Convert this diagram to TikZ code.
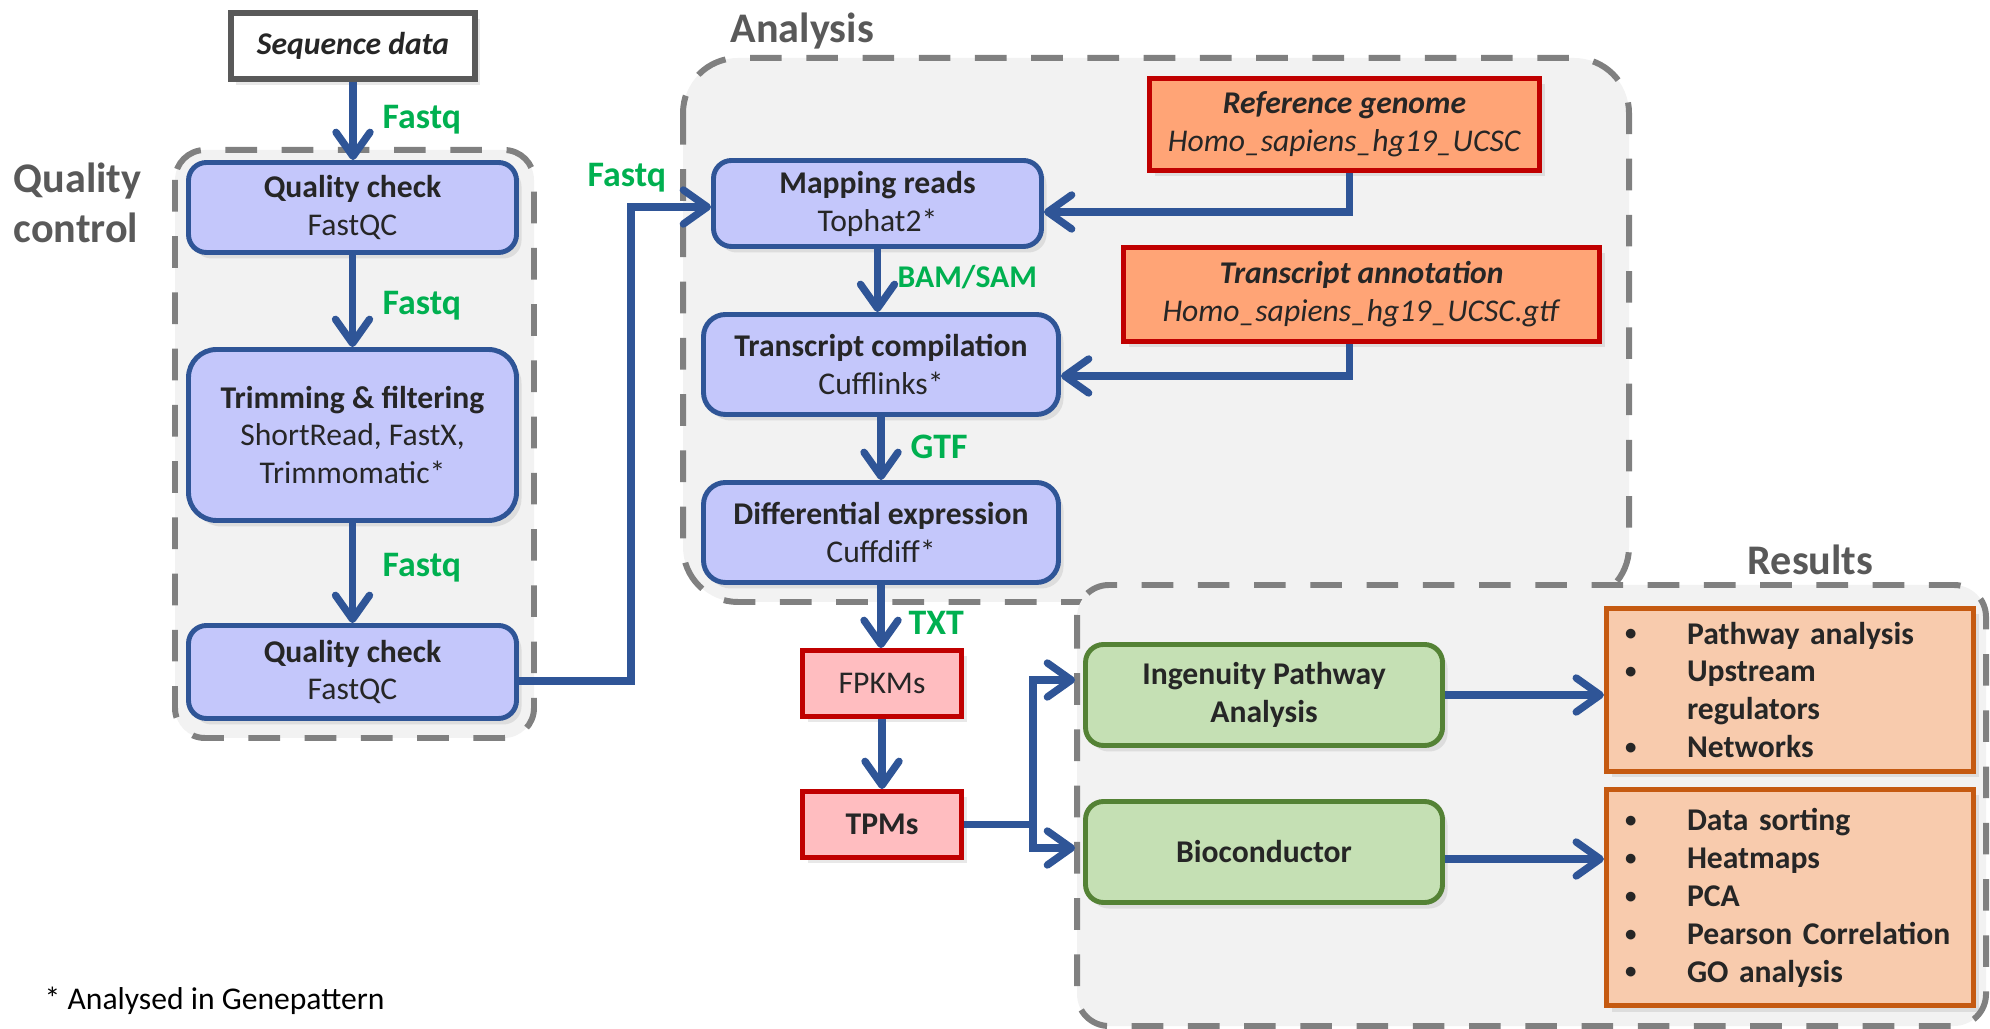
\documentclass[tikz,border=0pt]{standalone}
\usepackage{fontspec}
\setmainfont{Carlito}
\usepackage{xcolor}
\usepackage{tikz}
\usetikzlibrary{arrows.meta, positioning, calc, shadows}

\definecolor{procfill}{HTML}{C4C7FB}
\definecolor{procline}{HTML}{2F5597}
\definecolor{fmtgreen}{HTML}{00B050}
\definecolor{groupfill}{HTML}{F2F2F2}
\definecolor{groupline}{HTML}{808080}
\definecolor{labelgrey}{HTML}{595959}
\definecolor{inkdark}{HTML}{262626}
\definecolor{reffill}{HTML}{FFA476}
\definecolor{redline}{HTML}{C00000}
\definecolor{tabfill}{HTML}{FFBDC0}
\definecolor{toolfill}{HTML}{C5E0B4}
\definecolor{toolline}{HTML}{548235}
\definecolor{resfill}{HTML}{F8CBAD}
\definecolor{resline}{HTML}{C55A11}

% bullet lines in the result boxes
\newcommand{\resitem}[1]{\makebox[0.62cm][l]{\raisebox{0.2ex}{\fontsize{6.5}{8}\selectfont\textbullet}}#1}
\newcommand{\rescont}[1]{\hspace*{0.62cm}#1}

\begin{document}
\begin{tikzpicture}[
    >={Straight Barb[length=2.4mm, width=3.4mm, round]},
    box/.style={rectangle, inner sep=0pt, align=center, text=inkdark,
        font=\fontsize{9}{10.8}\selectfont,
        drop shadow={shadow xshift=0.5mm, shadow yshift=-0.6mm, opacity=0.18}},
    proc/.style={box, fill=procfill, draw=procline, line width=1.4pt, rounded corners=0.18cm},
    refbox/.style={box, fill=reffill, draw=redline, line width=1.6pt},
    tabbox/.style={box, fill=tabfill, draw=redline, line width=1.4pt,
        minimum width=1.59cm, minimum height=0.66cm},
    toolbox/.style={box, fill=toolfill, draw=toolline, line width=1.4pt, rounded corners=0.18cm,
        minimum width=3.57cm, minimum height=1.01cm, font=\fontsize{9}{10.8}\selectfont\bfseries},
    resbox/.style={box, fill=resfill, draw=resline, line width=1.5pt, text width=3.3cm,
        inner xsep=0.185cm, align=left, font=\fontsize{9}{10.8}\selectfont\bfseries},
    group/.style={fill=groupfill, draw=groupline, line width=1.7pt, dash pattern=on 9pt off 7pt},
    grouplabel/.style={inner sep=0pt, text=labelgrey, font=\fontsize{12}{14.2}\selectfont\bfseries},
    fmt/.style={inner sep=0pt, anchor=base west, text=fmtgreen, font=\fontsize{10.2}{12}\selectfont\bfseries},
    flow/.style={->, draw=procline, line width=2.1pt}
]
\useasboundingbox (0,0) rectangle (19.90,-10.29);

% Dashed group areas
\draw[group, rounded corners=0.3cm] (1.75,-1.50) rectangle (5.34,-7.38);
\draw[group, rounded corners=0.55cm] (6.83,-0.58) rectangle (16.29,-6.02);
\draw[group, rounded corners=0.32cm] (10.77,-5.85) rectangle (19.86,-10.26);

\node[grouplabel, anchor=west, align=left] (qclabel) at (0.13,-2.025) {Quality\\control};
\node[grouplabel, anchor=base west] (anlabel) at (7.30,-0.43) {Analysis};
\node[grouplabel, anchor=base west] (reslabel) at (17.47,-5.75) {Results};

% Quality control
\node[box, fill=white, draw=labelgrey, line width=1.6pt, minimum width=2.44cm, minimum height=0.66cm]
    (seq) at (3.53,-0.46) {\textbf{\textit{Sequence data}}};
\node[proc, minimum width=3.28cm, minimum height=0.90cm] (qc1) at (3.525,-2.075)
    {\textbf{Quality check}\\FastQC};
\node[proc, rounded corners=0.28cm, minimum width=3.28cm, minimum height=1.71cm] (trim) at (3.525,-4.35)
    {\textbf{Trimming \& filtering}\\ShortRead, FastX,\\Trimmomatic*};
\node[proc, minimum width=3.28cm, minimum height=0.93cm] (qc2) at (3.525,-6.72)
    {\textbf{Quality check}\\FastQC};

% Analysis
\node[proc, minimum width=3.28cm, minimum height=0.86cm] (map) at (8.775,-2.035)
    {\textbf{Mapping reads}\\Tophat2*};
\node[proc, rounded corners=0.22cm, minimum width=3.55cm, minimum height=1.00cm] (tc) at (8.81,-3.645)
    {\textbf{Transcript compilation}\\Cufflinks*};
\node[proc, rounded corners=0.22cm, minimum width=3.55cm, minimum height=1.00cm] (de) at (8.81,-5.325)
    {\textbf{Differential expression}\\Cuffdiff*};
\node[refbox, minimum width=3.90cm, minimum height=0.92cm] (rg) at (13.445,-1.245)
    {\textbf{\textit{Reference genome}}\\\textit{Homo\_sapiens\_hg19\_UCSC}};
\node[refbox, minimum width=4.76cm, minimum height=0.94cm] (ta) at (13.615,-2.945)
    {\textbf{\textit{Transcript annotation}}\\\textit{Homo\_sapiens\_hg19\_UCSC.gtf}};

\node[tabbox] (fpkm) at (8.82,-6.835) {FPKMs};
\node[tabbox] (tpm) at (8.82,-8.245) {\textbf{TPMs}};

% Results
\node[toolbox] (ipa) at (12.64,-6.95) {Ingenuity Pathway\\Analysis};
\node[toolbox] (bio) at (12.64,-8.52) {Bioconductor};
\node[resbox, minimum height=1.63cm] (res1) at (17.90,-6.90)
    {\resitem{Pathway analysis}\\\resitem{Upstream}\\\rescont{regulators}\\\resitem{Networks}};
\node[resbox, minimum height=2.16cm] (res2) at (17.90,-8.975)
    {\resitem{Data sorting}\\\resitem{Heatmaps}\\\resitem{PCA}\\\resitem{Pearson Correlation}\\\resitem{GO analysis}};

% Connectors
\draw[flow] (seq.south) -- (seq.south |- qc1.north);
\draw[flow] (qc1.south) -- (qc1.south |- trim.north);
\draw[flow] (trim.south) -- (trim.south |- qc2.north);
\draw[flow] ([yshift=-0.09cm]qc2.east) -- ++(1.12,0) |- ([yshift=-0.035cm]map.west);
\draw[flow] ([xshift=0.05cm]rg.south) |- ([yshift=-0.085cm]map.east);
\draw[flow] ([xshift=0.05cm]rg.south |- ta.south) |- ([yshift=-0.115cm]tc.east);
\draw[flow] (map.south) -- (map.south |- tc.north);
\draw[flow] (tc.south) -- (tc.south |- de.north);
\draw[flow] (de.south) -- (de.south |- fpkm.north);
\draw[flow] (fpkm.south) -- (tpm.north);
\draw[flow, shorten >=0.08cm] (tpm.east) -- ++(0.69,0) coordinate (split) |- ([yshift=0.15cm]ipa.west);
\draw[flow, shorten >=0.08cm] (split) |- ([yshift=0.04cm]bio.west);
\draw[flow] (ipa.east) -- (ipa.east -| res1.west);
\draw[flow] ([yshift=-0.07cm]bio.east) -- ([yshift=-0.07cm]bio.east -| res2.west);

% File formats
\node[fmt] (fq1) at (3.82,-1.29) {Fastq};
\node[fmt] (fq2) at (3.82,-3.15) {Fastq};
\node[fmt] (fq3) at (3.82,-5.77) {Fastq};
\node[fmt] (fq4) at (5.87,-1.87) {Fastq};
\node[fmt, font=\fontsize{9}{11}\selectfont\bfseries] (bamlbl) at (8.97,-2.88) {BAM/SAM};
\node[fmt] (gtflbl) at (9.10,-4.59) {GTF};
\node[fmt] (txtlbl) at (9.08,-6.35) {TXT};

\node[anchor=base west, inner sep=0pt, font=\fontsize{9}{10.8}\selectfont] (note) at (0.44,-10.09)
    {* Analysed in Genepattern};
\end{tikzpicture}
\end{document}
